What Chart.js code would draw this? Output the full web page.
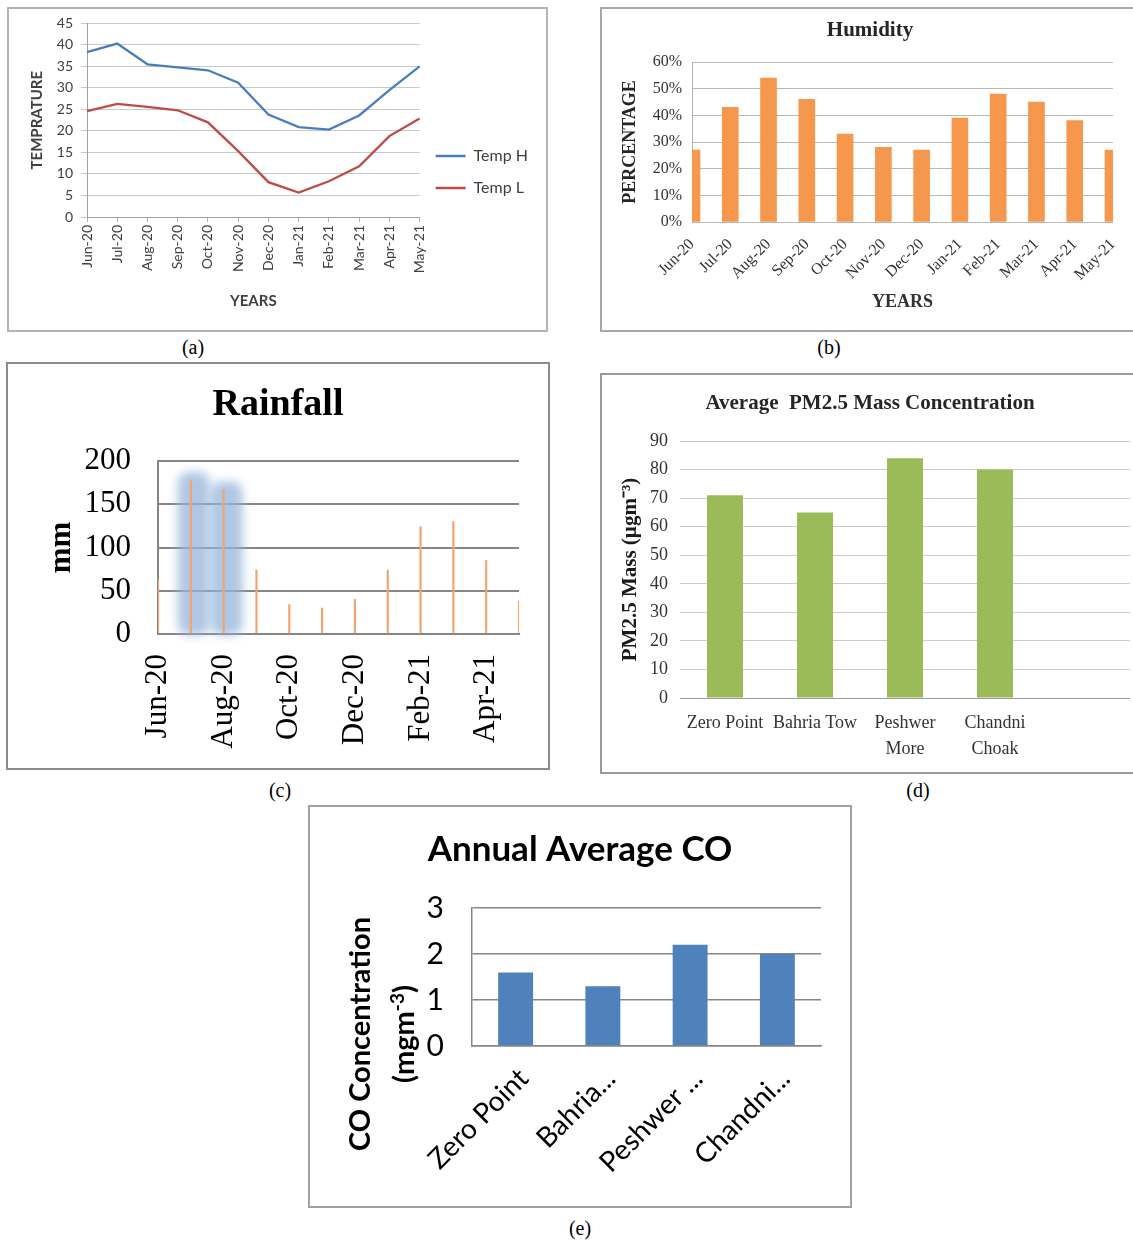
<!DOCTYPE html>
<html>
<head>
<meta charset="utf-8">
<script src="https://cdn.jsdelivr.net/npm/chart.js@4.4.1/dist/chart.umd.min.js"></script>
<style>
  html, body { margin: 0; padding: 0; background: #fff; }
  body { width: 1133px; height: 1242px; position: relative; overflow: hidden; }
  .panel { position: absolute; }
  .panel canvas { position: absolute; left: 0; top: 0; }
  .frame { position: absolute; box-sizing: border-box; pointer-events: none; }
  .cap { position: absolute; font-family: "Liberation Serif", serif; font-size: 20px; transform: translate(-50%, -50%); color: #000; }
  .ytitle { position: absolute; font-family: Lato, sans-serif; font-weight: bold; font-size: 29px; line-height: 38px;
            text-align: center; white-space: nowrap; transform: translate(-50%, -50%) rotate(-90deg); color: #000; }
</style>
</head>
<body>

<div class="panel" style="left:7px;top:7px"><canvas id="tempChart" width="541" height="325"></canvas></div>
<div class="frame" style="left:7px;top:7px;width:541px;height:325px;border:2px solid #b4b4b4"></div>
<div class="cap" style="left:193px;top:347px">(a)</div>

<div class="panel" style="left:600px;top:7px"><canvas id="humidChart" width="540" height="325"></canvas></div>
<div class="frame" style="left:600px;top:7px;width:545px;height:325px;border:2px solid #a8a8a8"></div>
<div class="cap" style="left:829px;top:347px">(b)</div>

<div class="panel" style="left:6px;top:362px"><canvas id="rainChart" width="544" height="408"></canvas></div>
<div class="frame" style="left:6px;top:362px;width:544px;height:408px;border:2px solid #8c8c8c"></div>
<div class="cap" style="left:280px;top:790px">(c)</div>

<div class="panel" style="left:600px;top:373px"><canvas id="pmChart" width="540" height="401"></canvas></div>
<div class="frame" style="left:600px;top:373px;width:545px;height:401px;border:2px solid #9a9a9a"></div>
<div class="cap" style="left:918px;top:790px">(d)</div>

<div class="panel" style="left:308px;top:805px"><canvas id="coChart" width="544" height="403"></canvas></div>
<div class="frame" style="left:308px;top:805px;width:544px;height:403px;border:2px solid #a0a0a0"></div>
<div class="ytitle" style="left:381px;top:1034px">CO Concentration<br>(mgm<sup style="font-size:19px">-3</sup>)</div>
<div class="cap" style="left:580px;top:1228px">(e)</div>

<script>
// data
const months = ['Jun-20', 'Jul-20', 'Aug-20', 'Sep-20', 'Oct-20', 'Nov-20', 'Dec-20', 'Jan-21', 'Feb-21', 'Mar-21', 'Apr-21', 'May-21'];
const tempHigh = [38.3, 40.3, 35.5, 34.8, 34.1, 31.2, 23.8, 20.9, 20.3, 23.6, 29.5, 35];
const tempLow = [24.6, 26.3, 25.6, 24.8, 22, 15.3, 8.1, 5.7, 8.3, 11.8, 18.8, 22.9];
const humidity = [27, 43, 54, 46, 33, 28, 27, 39, 48, 45, 38, 27];
const rainfall = [63, 178, 167, 74, 34, 30, 40, 74, 124, 130, 85, 38];
const rainHighlight = ['Jul-20', 'Aug-20'];
const pmSites = ['Zero Point', 'Bahria Tow', ['Peshwer', 'More'], ['Chandni', 'Choak'], ''];
const pmValues = [71, 65, 84, 80, null];
const coSites = ['Zero Point', 'Bahria...', 'Peshwer ...', 'Chandni...'];
const coValues = [1.6, 1.3, 2.2, 2.0];

const serif = 'Liberation Serif';
const sans = 'Lato';

// fix the x axis height and the room kept on the right of the plot
function xFit(height, right) {
    return s => {
        s.height = height;
        s.paddingLeft = 0;
        s.paddingRight = right;
    };
}

// blurry blue selection behind the Jul/Aug rainfall bars
const rainGlow = {
    id: 'rainGlow',
    beforeDatasetsDraw(chart) {
        const ctx = chart.ctx;
        const meta = chart.getDatasetMeta(0);
        ctx.save();
        ctx.filter = 'blur(5px)';
        ctx.fillStyle = 'rgba(150, 180, 218, 0.75)';
        meta.data.forEach((bar, i) => {
            if (!rainHighlight.includes(months[i])) return;
            ctx.beginPath();
            ctx.roundRect(bar.x - 13, bar.y - 8, 32, bar.base - bar.y + 10, 11);
            ctx.fill();
        });
        ctx.restore();
    }
};

// (a) temperature
new Chart(document.getElementById('tempChart'), {
    type: 'line',
    data: {
        labels: months,
        datasets: [
            { label: 'Temp H', data: tempHigh, borderColor: '#4A7EBB', backgroundColor: '#4A7EBB', borderWidth: 2.3, pointRadius: 0 },
            { label: 'Temp L', data: tempLow, borderColor: '#BE4B48', backgroundColor: '#BE4B48', borderWidth: 2.3, pointRadius: 0 }
        ]
    },
    options: {
        responsive: false,
        animation: false,
        layout: { padding: { top: 15, right: 10, bottom: 10, left: 0 } },
        plugins: {
            legend: {
                position: 'right',
                labels: { usePointStyle: true, pointStyle: 'line', pointStyleWidth: 30, padding: 16, color: '#404040', font: { family: sans, size: 16 } }
            },
            tooltip: { enabled: false }
        },
        scales: {
            x: {
                offset: false,
                grid: { drawOnChartArea: false, tickLength: 5, color: '#b0b0b0' },
                border: { color: '#a0a0a0' },
                ticks: { minRotation: 90, maxRotation: 90, autoSkip: false, padding: 3, color: '#404040', font: { family: sans, size: 14 } },
                title: { display: true, text: 'YEARS', color: '#404040', font: { family: sans, size: 15, weight: 'bold' }, padding: { top: 0, bottom: 12 } },
                afterFit: xFit(105, 0)
            },
            y: {
                min: 0, max: 45,
                grid: { color: '#c8c8c8', tickLength: 6 },
                border: { color: '#a0a0a0' },
                ticks: { stepSize: 5, padding: 8, color: '#404040', font: { family: sans, size: 14 } },
                title: { display: true, text: 'TEMPRATURE', color: '#404040', font: { family: sans, size: 15, weight: 'bold' }, padding: { top: 21, bottom: 0 } },
                afterFit: s => { s.width = 80; }
            }
        }
    }
});

// (b) humidity
new Chart(document.getElementById('humidChart'), {
    type: 'bar',
    data: {
        labels: months,
        datasets: [{ data: humidity, backgroundColor: '#F5984D', barThickness: 16, clip: 0 }]
    },
    options: {
        responsive: false,
        animation: false,
        layout: { padding: 0 },
        plugins: {
            legend: { display: false },
            tooltip: { enabled: false },
            title: { display: true, text: 'Humidity', color: '#262626', font: { family: serif, size: 21, weight: 'bold' }, padding: { top: 11.4, bottom: 18.4 } }
        },
        scales: {
            x: {
                offset: false,
                grid: { display: false },
                border: { display: false },
                ticks: { minRotation: 45, maxRotation: 45, autoSkip: false, padding: 5, color: '#333', font: { family: serif, size: 16 } },
                title: { display: true, text: 'YEARS', color: '#333', font: { family: serif, size: 18, weight: 'bold' }, padding: { top: 0, bottom: 19 } },
                afterFit: xFit(110, 27)
            },
            y: {
                min: 0, max: 60,
                grid: { color: '#b8b8b8', drawTicks: false },
                border: { color: '#b0b0b0' },
                ticks: { stepSize: 10, padding: 10, color: '#333', font: { family: serif, size: 16 }, callback: v => v + '%' },
                title: { display: true, text: 'PERCENTAGE', color: '#262626', font: { family: serif, size: 18, weight: 'bold' }, padding: { top: 19.2, bottom: 0 } },
                afterFit: s => { s.width = 92; }
            }
        }
    }
});

// (c) rainfall
new Chart(document.getElementById('rainChart'), {
    type: 'bar',
    data: {
        labels: months,
        datasets: [{ data: rainfall, backgroundColor: '#F2A46E', barThickness: 1.5 }]
    },
    plugins: [rainGlow],
    options: {
        responsive: false,
        animation: false,
        layout: { padding: 0 },
        plugins: {
            legend: { display: false },
            tooltip: { enabled: false },
            title: { display: true, text: 'Rainfall', color: '#000', font: { family: serif, size: 38, weight: 'bold' }, padding: { top: 20.2, bottom: 33.2 } }
        },
        scales: {
            x: {
                offset: false,
                grid: { display: false },
                border: { color: '#868686', width: 2 },
                ticks: {
                    minRotation: 90, maxRotation: 90, autoSkip: false, padding: 12, color: '#000', font: { family: serif, size: 31 },
                    callback: function (v, i) { return i % 2 === 0 ? this.getLabelForValue(v) : ''; }
                },
                afterFit: xFit(136, 31)
            },
            y: {
                min: 0, max: 200,
                grid: { color: '#868686', lineWidth: 2, drawTicks: false },
                border: { color: '#868686', width: 2 },
                ticks: { stepSize: 50, padding: 27, color: '#000', font: { family: serif, size: 31 } },
                title: { display: true, text: 'mm', color: '#000', font: { family: serif, size: 31, weight: 'bold' }, padding: { top: 37.4, bottom: 0 } },
                afterFit: s => { s.width = 152; }
            }
        }
    }
});

// (d) PM2.5
new Chart(document.getElementById('pmChart'), {
    type: 'bar',
    data: {
        labels: pmSites,
        datasets: [{ data: pmValues, backgroundColor: '#9BBB59', categoryPercentage: 1, barPercentage: 0.4 }]
    },
    options: {
        responsive: false,
        animation: false,
        layout: { padding: 0 },
        plugins: {
            legend: { display: false },
            tooltip: { enabled: false },
            title: { display: true, text: 'Average  PM2.5 Mass Concentration', color: '#262626', font: { family: serif, size: 21, weight: 'bold' }, padding: { top: 18.4, bottom: 24.4 } }
        },
        scales: {
            x: {
                grid: { display: false },
                border: { display: false },
                ticks: { autoSkip: false, maxRotation: 0, padding: 4, color: '#333', font: { family: serif, size: 18, lineHeight: 1.45 } },
                afterFit: xFit(76, 10)
            },
            y: {
                min: 0, max: 90,
                grid: { drawTicks: false, color: ctx => ctx.tick.value === 0 ? '#9a9a9a' : '#cccccc' },
                border: { display: false },
                ticks: { stepSize: 10, padding: 12, color: '#333', font: { family: serif, size: 18 } },
                title: { display: true, text: 'PM2.5 Mass (µgm⁻³)', color: '#1a1a1a', font: { family: serif, size: 21, weight: 'bold' }, padding: { top: 18.4, bottom: 0 } },
                afterFit: s => { s.width = 80; }
            }
        }
    }
});

// (e) CO
new Chart(document.getElementById('coChart'), {
    type: 'bar',
    data: {
        labels: coSites,
        datasets: [{ data: coValues, backgroundColor: '#4F81BD', categoryPercentage: 1, barPercentage: 0.4 }]
    },
    options: {
        responsive: false,
        animation: false,
        layout: { padding: 0 },
        plugins: {
            legend: { display: false },
            tooltip: { enabled: false },
            title: { display: true, text: 'Annual Average CO', color: '#000', font: { family: sans, size: 35, weight: 'bold' }, padding: { top: 24, bottom: 37 } }
        },
        scales: {
            x: {
                grid: { display: false },
                border: { color: '#868686', width: 1.5 },
                ticks: { minRotation: 45, maxRotation: 45, autoSkip: false, padding: 8, labelOffset: 8, color: '#000', font: { family: sans, size: 28 } },
                afterFit: xFit(162, 31)
            },
            y: {
                min: 0, max: 3,
                grid: { color: '#868686', lineWidth: 1.5, drawTicks: false },
                border: { color: '#868686', width: 1.5 },
                ticks: { stepSize: 1, padding: 28, color: '#000', font: { family: sans, size: 30 } },
                afterFit: s => { s.width = 164; }
            }
        }
    }
});
</script>
</body>
</html>
